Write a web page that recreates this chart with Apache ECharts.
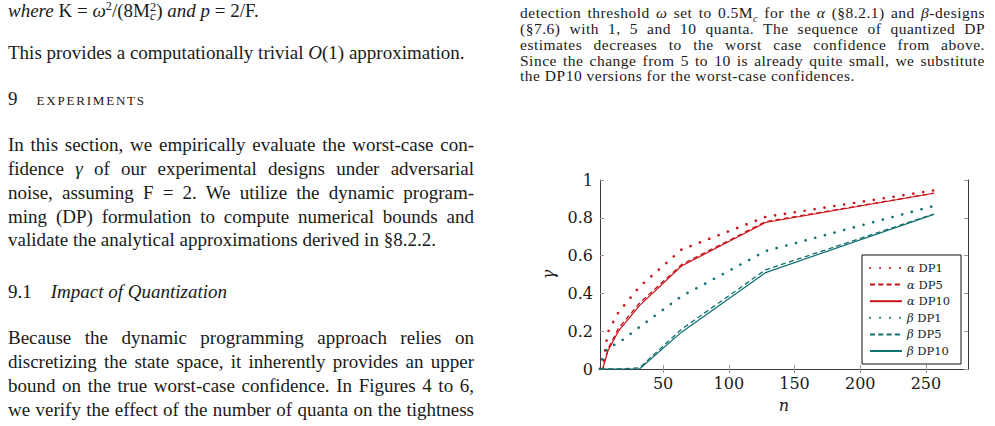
<!DOCTYPE html>
<html>
<head>
<meta charset="utf-8">
<script src="https://cdn.jsdelivr.net/npm/echarts@6/dist/echarts.min.js"></script>
<style>
  html, body { margin: 0; padding: 0; background: #fff; }
  body { width: 995px; height: 426px; position: relative; overflow: hidden; font-family: "Liberation Serif", serif; color: #1a1a1a; }
  .t { position: absolute; white-space: nowrap; }
  .L { left: 8px; width: 466px; font-size: 19px; line-height: 23.8px; }
  .R { left: 520px; width: 465px; font-size: 15.5px; line-height: 15.8px; letter-spacing: 0.5px; }
  .j { text-align: justify; text-align-last: justify; }
  .sc { font-variant: small-caps; letter-spacing: 1.8px; }
  .st { display: inline-block; vertical-align: -0.25em; line-height: 0.8em; font-size: 0.65em; text-align: left; }
  #chart { position: absolute; left: 0; top: 0; width: 995px; height: 426px; }
</style>
</head>
<body>
<!-- left column -->
<div class="t L" style="top:-5px"><i>where</i> K = <i>ω</i><sup style="font-size:0.65em">2</sup>/(8M<span class="st">2<br><i>c</i></span>) <i>and p</i> = 2/F.</div>
<div class="t L" style="top:41px">This provides a computationally trivial <i>O</i>(1) approximation.</div>
<div class="t L" style="top:87px">9&nbsp;&nbsp;&nbsp;&nbsp;<span class="sc">experiments</span></div>
<div class="t L j" style="top:133px">In this section, we empirically evaluate the worst-case con-</div>
<div class="t L j" style="top:157px">fidence <i>γ</i> of our experimental designs under adversarial</div>
<div class="t L j" style="top:181px">noise, assuming F = 2. We utilize the dynamic program-</div>
<div class="t L j" style="top:205px">ming (DP) formulation to compute numerical bounds and</div>
<div class="t L" style="top:228px">validate the analytical approximations derived in §8.2.2.</div>
<div class="t L" style="top:280px">9.1&nbsp;&nbsp;&nbsp;&nbsp;<i>Impact of Quantization</i></div>
<div class="t L j" style="top:326px">Because the dynamic programming approach relies on</div>
<div class="t L j" style="top:350px">discretizing the state space, it inherently provides an upper</div>
<div class="t L j" style="top:374px">bound on the true worst-case confidence. In Figures 4 to 6,</div>
<div class="t L j" style="top:398px">we verify the effect of the number of quanta on the tightness</div>
<!-- right column -->
<div class="t R j" style="top:5px">detection threshold <i>ω</i> set to 0.5M<sub style="font-size:0.65em"><i>c</i></sub> for the <i>α</i> (§8.2.1) and <i>β</i>-designs</div>
<div class="t R j" style="top:21px">(§7.6) with 1, 5 and 10 quanta. The sequence of quantized DP</div>
<div class="t R j" style="top:37px">estimates decreases to the worst case confidence from above.</div>
<div class="t R j" style="top:53px">Since the change from 5 to 10 is already quite small, we substitute</div>
<div class="t R" style="top:68px">the DP10 versions for the worst-case confidences.</div>

<div id="chart"></div>
<script>
// ---- data ----
const nValues   = [2, 4, 8, 16, 32, 64, 128, 256];
const alphaDP1  = [0, 0.01, 0.195, 0.30, 0.435, 0.632, 0.805, 0.945];
const alphaDP5  = [0, 0, 0.105, 0.215, 0.348, 0.552, 0.78, 0.93];
const alphaDP10 = [0, 0, 0.095, 0.20, 0.335, 0.545, 0.775, 0.93];
const betaDP1   = [0, 0.06, 0.115, 0.137, 0.222, 0.385, 0.624, 0.863];
const betaDP5   = [0, 0, 0, 0, 0.006, 0.21, 0.525, 0.82];
const betaDP10  = [0, 0, 0, 0, 0, 0.195, 0.51, 0.818];
const xTicks = [50, 100, 150, 200, 250];
const seriesNames = ['α DP1', 'α DP5', 'α DP10', 'β DP1', 'β DP5', 'β DP10'];

const RED = '#cc1219';
const TEAL = '#0f7070';
const FONT = '"DejaVu Serif", serif';

function pairs(ys) { return nValues.map((n, i) => [n, ys[i]]); }
const dotted = { width: 2.6, type: [0.1, 9.9], cap: 'round' };
const dashed = { width: 1.3, type: [5, 3.3] };
const solid  = { width: 1.2, type: 'solid' };

function mk(name, ys, color, style) {
  return {
    name: name, type: 'line', data: pairs(ys), showSymbol: false, symbol: 'none',
    color: color, lineStyle: Object.assign({ color: color }, style), animation: false,
    emphasis: { disabled: true }
  };
}

const chart = echarts.init(document.getElementById('chart'), null, { renderer: 'svg' });
const axisLineStyle = { show: true, lineStyle: { color: '#3a3a3a', width: 1 } };
const tickStyle = { show: true, inside: true, length: 4, lineStyle: { color: '#9a9a9a', width: 1 } };

chart.setOption({
  backgroundColor: 'transparent',
  animation: false,
  grid: { left: 600, top: 180, width: 368, height: 189 },
  xAxis: [
    {
      type: 'value', min: 2, max: 282, position: 'bottom',
      axisLine: axisLineStyle,
      axisTick: Object.assign({ customValues: xTicks }, tickStyle),
      axisLabel: { customValues: xTicks, fontSize: 16, fontFamily: FONT, color: '#1a1a1a', margin: 6 },
      splitLine: { show: false },
      name: 'n', nameLocation: 'middle', nameGap: 28,
      nameTextStyle: { fontSize: 16, fontStyle: 'italic', fontFamily: FONT, color: '#1a1a1a' }
    },
    {
      type: 'value', min: 2, max: 282, position: 'top',
      axisLine: axisLineStyle,
      axisTick: Object.assign({ customValues: xTicks }, tickStyle),
      axisLabel: { show: false }, splitLine: { show: false }
    }
  ],
  yAxis: [
    {
      type: 'value', min: 0, max: 1, interval: 0.2, position: 'left',
      axisLine: axisLineStyle, axisTick: tickStyle,
      axisLabel: { fontSize: 16, fontFamily: FONT, color: '#1a1a1a', margin: 7 },
      splitLine: { show: false },
      name: 'γ', nameLocation: 'middle', nameGap: 44, nameRotate: 90,
      nameTextStyle: { fontSize: 16, fontStyle: 'italic', fontFamily: FONT, color: '#1a1a1a' }
    },
    {
      type: 'value', min: 0, max: 1, interval: 0.2, position: 'right',
      axisLine: axisLineStyle, axisTick: tickStyle,
      axisLabel: { show: false }, splitLine: { show: false }
    }
  ],
  legend: {
    data: seriesNames,
    orient: 'vertical', left: 862, top: 255,
    backgroundColor: '#fff', borderColor: '#111', borderWidth: 1, borderRadius: 0,
    padding: [6, 11, 6, 7], itemGap: 2.6, itemWidth: 32, itemHeight: 10,
    selectedMode: false,
    itemStyle: { opacity: 0 },
    formatter: function (name) { return name.replace(/^(α|β)/, '{g|$1}'); },
    textStyle: {
      fontSize: 11.5, fontFamily: FONT, color: '#1a1a1a', lineHeight: 14,
      rich: { g: { fontSize: 11.5, fontStyle: 'italic', fontFamily: FONT, color: '#1a1a1a', lineHeight: 14 } }
    }
  },
  series: [
    mk(seriesNames[0], alphaDP1, RED, dotted),
    mk(seriesNames[1], alphaDP5, RED, dashed),
    mk(seriesNames[2], alphaDP10, RED, solid),
    mk(seriesNames[3], betaDP1, TEAL, dotted),
    mk(seriesNames[4], betaDP5, TEAL, dashed),
    mk(seriesNames[5], betaDP10, TEAL, solid)
  ]
});
</script>
</body>
</html>
